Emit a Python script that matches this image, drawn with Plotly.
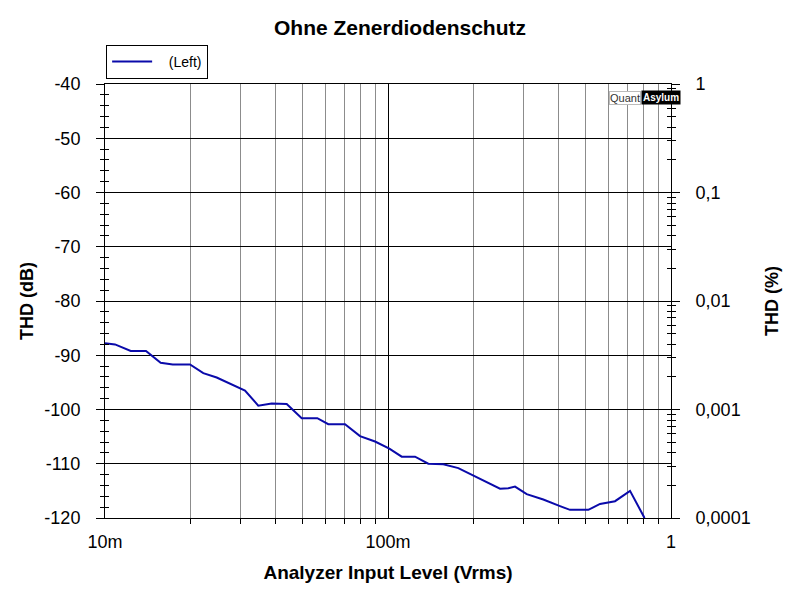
import plotly.graph_objects as go

# Data
level_vrms = [0.01, 0.01085, 0.01233, 0.01396, 0.01573, 0.01735, 0.01997, 0.02225,
              0.02481, 0.02920, 0.03124, 0.03480, 0.03882, 0.04386, 0.04956, 0.05627,
              0.06152, 0.07049, 0.07963, 0.08999, 0.1011, 0.1118, 0.1246, 0.1388,
              0.1568, 0.1772, 0.2030, 0.2233, 0.2488, 0.2662, 0.2811, 0.3091,
              0.3538, 0.4053, 0.4397, 0.5104, 0.5613, 0.6342, 0.7165, 0.8027, 0.815]
thd_db = [-87.8, -88.0, -89.2, -89.2, -91.4, -91.7, -91.7, -93.3,
          -94.1, -95.9, -96.5, -99.3, -98.9, -99.0, -101.6, -101.6,
          -102.7, -102.7, -104.9, -105.9, -107.2, -108.7, -108.7, -110.0,
          -110.1, -110.8, -112.3, -113.5, -114.6, -114.5, -114.2, -115.6,
          -116.6, -117.8, -118.5, -118.5, -117.4, -116.9, -115.0, -119.8, -121.0]

x_tick_vals = [0.01, 0.1, 1]
x_tick_text = ["10m", "100m", "1"]
y_tick_vals = [-120, -110, -100, -90, -80, -70, -60, -50, -40]
y_tick_text = ["-120", "-110", "-100", "-90", "-80", "-70", "-60", "-50", "-40"]
pct_tick_vals = [0.0001, 0.001, 0.01, 0.1, 1]
pct_tick_text = ["0,0001", "0,001", "0,01", "0,1", "1"]

x_minor = [m * d for d in (0.01, 0.1) for m in range(2, 10)]
pct_minor = [m * d for d in (0.0001, 0.001, 0.01, 0.1) for m in range(2, 10)]

FONT = "Liberation Sans, Arial, sans-serif"
LINE = "#0A0AAA"

fig = go.Figure()
fig.add_trace(go.Scatter(x=level_vrms, y=thd_db, mode="lines",
                         name="\u00a0\u00a0\u00a0(Left)",
                         line=dict(color=LINE, width=2)))
# invisible helpers so the secondary axes render
for ya in ("y2", "y3", "y4"):
    fig.add_trace(go.Scatter(x=[0.01], y=[None], yaxis=ya, showlegend=False,
                             hoverinfo="skip", mode="lines"))

fig.update_layout(
    width=800, height=600,
    paper_bgcolor="white", plot_bgcolor="white",
    margin=dict(l=97, r=137, t=76, b=90),
    font=dict(family=FONT, color="black", size=18),
    title=dict(text="<b>Ohne Zenerdiodenschutz</b>", x=0.49, xanchor="center",
               y=0.968, yanchor="middle", font=dict(size=21, family=FONT)),
    showlegend=True,
    legend=dict(x=0.002, y=1.012, xanchor="left", yanchor="bottom",
                bordercolor="black", borderwidth=1, bgcolor="white",
                font=dict(size=14, family=FONT), itemwidth=40,
                tracegroupgap=0),
    xaxis=dict(type="log", range=[-2, 0], tickvals=x_tick_vals, ticktext=x_tick_text,
               showgrid=True, gridcolor="black", gridwidth=1,
               showline=True, linecolor="black", linewidth=1, mirror=True,
               ticks="", tickfont=dict(size=18), ticklabelstandoff=7,
               minor=dict(tickvals=x_minor, showgrid=True, gridcolor="#8c8c8c",
                          gridwidth=1, ticks="outside", ticklen=5, tickcolor="black"),
               title=dict(text="<b>Analyzer Input Level (Vrms)</b>",
                          font=dict(size=19), standoff=15),
               zeroline=False),
    yaxis=dict(range=[-120, -40], tickvals=y_tick_vals, ticktext=y_tick_text,
               showgrid=True, gridcolor="black", gridwidth=1,
               showline=True, linecolor="black", linewidth=1,
               ticks="outside", ticklen=8, tickcolor="black",
               tickfont=dict(size=18), ticklabelstandoff=12,
               minor=dict(dtick=2, tick0=-120, ticks="outside", ticklen=4,
                          tickcolor="black", showgrid=False),
               title=dict(text="<b>THD (dB)</b>", font=dict(size=18), standoff=6),
               zeroline=False),
    yaxis2=dict(type="log", range=[-4, 0], overlaying="y", side="right", anchor="x",
                tickvals=pct_tick_vals, ticktext=pct_tick_text,
                showgrid=False, showline=True, linecolor="black", linewidth=1,
                ticks="outside", ticklen=8, tickcolor="black",
                tickfont=dict(size=18), ticklabelstandoff=12,
                minor=dict(tickvals=pct_minor, ticks="outside", ticklen=4,
                           tickcolor="black", showgrid=False),
                title=dict(text="<b>THD (%)</b>", font=dict(size=18), standoff=15),
                zeroline=False),
    yaxis3=dict(range=[-120, -40], overlaying="y", side="left", anchor="x",
                tickvals=y_tick_vals, showticklabels=False, showgrid=False,
                ticks="inside", ticklen=4, tickcolor="black",
                minor=dict(dtick=2, tick0=-120, ticks="inside", ticklen=4,
                           tickcolor="black", showgrid=False),
                zeroline=False),
    yaxis4=dict(type="log", range=[-4, 0], overlaying="y", side="right", anchor="x",
                tickvals=pct_tick_vals, showticklabels=False, showgrid=False,
                ticks="inside", ticklen=4, tickcolor="black",
                minor=dict(tickvals=pct_minor, ticks="inside", ticklen=4,
                           tickcolor="black", showgrid=False),
                zeroline=False),
)

# QuantAsylum logo
fig.add_annotation(xref="paper", yref="paper", x=0.947, y=0.968,
                   xanchor="right", yanchor="middle", text="Quant", showarrow=False,
                   font=dict(size=11, color="#333333", family="Liberation Sans, Arial"),
                   bgcolor="white", bordercolor="#bbbbbb", borderwidth=1, borderpad=0)
fig.add_annotation(xref="paper", yref="paper", x=0.947, y=0.968,
                   xanchor="left", yanchor="middle", text="<b>Asylum</b>", showarrow=False,
                   font=dict(size=10, color="white", family="Liberation Sans, Arial"),
                   bgcolor="black", borderpad=1)

fig.write_html("out.html")
